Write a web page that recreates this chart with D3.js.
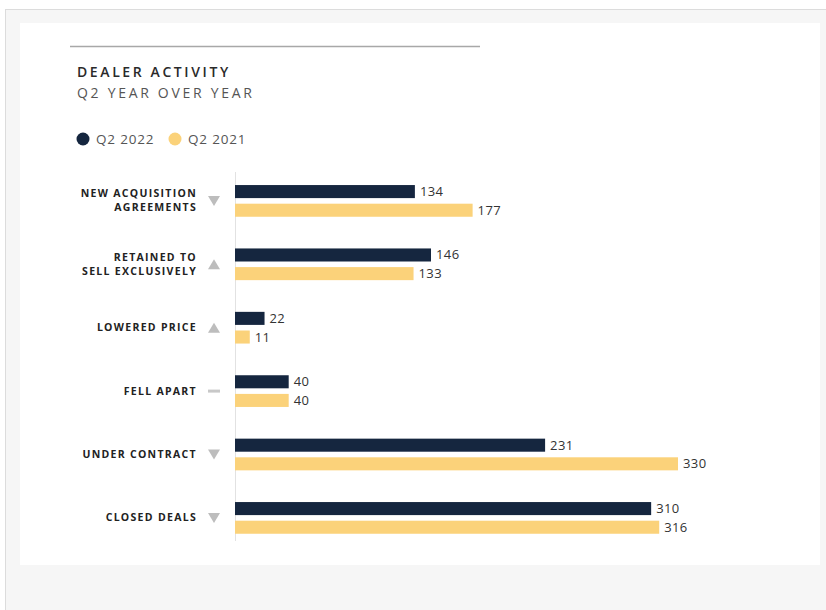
<!DOCTYPE html>
<html>
<head>
<meta charset="utf-8">
<script src="https://cdn.jsdelivr.net/npm/d3@7"></script>
<style>
  body { margin: 0; background: #fff; }
  svg { display: block; }
</style>
</head>
<body>
<div id="chart"></div>
<script>
// data
const categories = [
    ["NEW ACQUISITION", "AGREEMENTS"],
    ["RETAINED TO", "SELL EXCLUSIVELY"],
    ["LOWERED PRICE"],
    ["FELL APART"],
    ["UNDER CONTRACT"],
    ["CLOSED DEALS"]
];
const seriesNames = ["Q2 2022", "Q2 2021"];
const q2022 = [134, 146, 22, 40, 231, 310];
const q2021 = [177, 133, 11, 40, 330, 316];
const trend = ["down", "up", "up", "flat", "down", "down"];

const colors = {"Q2 2022": "#15263f", "Q2 2021": "#fbd27a"};
const fontFam = "'Open Sans', 'DejaVu Sans', sans-serif";

const width = 826, height = 610;

const svg = d3.select("#chart").append("svg")
    .attr("width", width)
    .attr("height", height);

// outer gray frame + inner white card
svg.append("rect")
    .attr("x", 5.5).attr("y", 9.5)
    .attr("width", width).attr("height", height)
    .attr("fill", "#f6f6f6")
    .attr("stroke", "#dcdcdc");
svg.append("rect")
    .attr("x", 20).attr("y", 23)
    .attr("width", 800).attr("height", 542)
    .attr("fill", "#fff");

// header rule
svg.append("line")
    .attr("x1", 70).attr("x2", 480)
    .attr("y1", 46.5).attr("y2", 46.5)
    .attr("stroke", "#a8a8a8")
    .attr("stroke-width", 1.5);

svg.append("text")
    .attr("x", 77).attr("y", 77)
    .style("font-family", fontFam)
    .style("font-size", "14px")
    .style("font-weight", 600)
    .style("letter-spacing", "2.6px")
    .style("fill", "#2a2a2a")
    .text("DEALER ACTIVITY");

svg.append("text")
    .attr("x", 77).attr("y", 98)
    .style("font-family", fontFam)
    .style("font-size", "14px")
    .style("letter-spacing", "2.7px")
    .style("fill", "#555")
    .text("Q2 YEAR OVER YEAR");

// legend
const legendX = [83, 175];
const legend = svg.append("g");
seriesNames.forEach((s, i) => {
    legend.append("circle")
        .attr("cx", legendX[i]).attr("cy", 139)
        .attr("r", 6.5)
        .attr("fill", colors[s]);
    legend.append("text")
        .attr("x", legendX[i] + 13).attr("y", 144)
        .style("font-family", fontFam)
        .style("font-size", "13.5px")
        .style("letter-spacing", "0.8px")
        .style("fill", "#555")
        .text(s);
});

// scales
const x = d3.scaleLinear()
    .domain([0, 330])
    .range([235, 678]);

const y = d3.scaleBand()
    .domain(d3.range(categories.length))
    .range([169.2, 549.6])
    .paddingInner(0.5)
    .paddingOuter(0.25);

const yInner = d3.scaleBand()
    .domain(seriesNames)
    .range([0, y.bandwidth()])
    .paddingInner(0.3);

const rows = categories.map((c, i) => ({
    label: c,
    trend: trend[i],
    values: [{key: "Q2 2022", value: q2022[i]}, {key: "Q2 2021", value: q2021[i]}]
}));

// axis line
svg.append("line")
    .attr("x1", x(0) + 0.5).attr("x2", x(0) + 0.5)
    .attr("y1", 172).attr("y2", 541)
    .attr("stroke", "#e2e2e2");

const groups = svg.selectAll(".group")
    .data(rows)
    .enter().append("g")
    .attr("class", "group")
    .attr("transform", (d, i) => `translate(0, ${y(i)})`);

groups.selectAll("rect")
    .data(d => d.values)
    .enter().append("rect")
    .attr("x", x(0))
    .attr("y", d => yInner(d.key))
    .attr("width", d => x(d.value) - x(0))
    .attr("height", yInner.bandwidth())
    .attr("fill", d => colors[d.key]);

groups.selectAll(".val")
    .data(d => d.values)
    .enter().append("text")
    .attr("class", "val")
    .attr("x", d => x(d.value) + 5)
    .attr("y", d => yInner(d.key) + yInner.bandwidth() / 2 + 4.5)
    .style("font-family", fontFam)
    .style("font-size", "13px")
    .style("letter-spacing", "0.4px")
    .style("fill", "#333")
    .text(d => d.value);

// category labels
const mid = y.bandwidth() / 2;
groups.each(function (d) {
    const g = d3.select(this);
    const n = d.label.length;
    d.label.forEach((line, j) => {
        g.append("text")
            .attr("x", 197)
            .attr("y", mid + 3.5 + (j - (n - 1) / 2) * 14)
            .attr("text-anchor", "end")
            .style("font-family", fontFam)
            .style("font-size", "10.5px")
            .style("font-weight", 700)
            .style("letter-spacing", "1.3px")
            .style("fill", "#222")
            .text(line);
    });

    // trend marker
    const cx = 214, cy = mid;
    if (d.trend === "down") {
        g.append("path")
            .attr("d", `M${cx - 6},${cy - 5}L${cx + 6},${cy - 5}L${cx},${cy + 5}Z`)
            .attr("fill", "#bdbdbd");
    } else if (d.trend === "up") {
        g.append("path")
            .attr("d", `M${cx - 6},${cy + 5}L${cx + 6},${cy + 5}L${cx},${cy - 5}Z`)
            .attr("fill", "#bdbdbd");
    } else {
        g.append("rect")
            .attr("x", cx - 6).attr("y", cy - 1.5)
            .attr("width", 12).attr("height", 3)
            .attr("fill", "#c8c8c8");
    }
});
</script>
</body>
</html>
